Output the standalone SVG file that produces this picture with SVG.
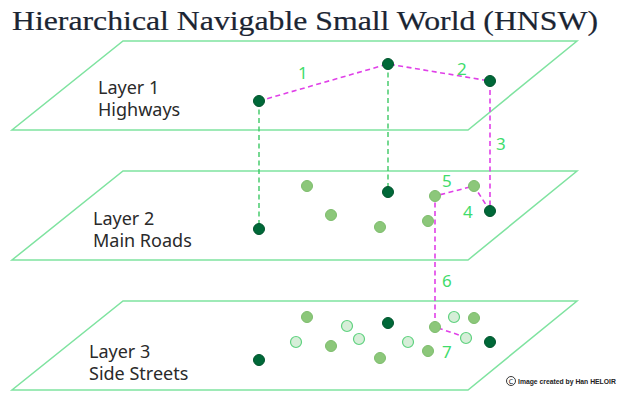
<svg xmlns="http://www.w3.org/2000/svg" width="632" height="397" viewBox="0 0 632 397">
<style>
.plane{fill:#ffffff;stroke:#7fe3a0;stroke-width:1.5}
.lbl{font-family:"Noto Sans",Lato,sans-serif;font-size:18px;fill:#2a2a2a}
.num{font-family:"Noto Sans",Lato,sans-serif;font-size:17px;fill:#3fdc6c}
.dark{fill:#006838;stroke:#00552d;stroke-width:1}
.mid{fill:#8cc77a;stroke:#7dbd6c;stroke-width:1}
.pale{fill:#d6eed8;stroke:#5fd27f;stroke-width:1.2}
.path{fill:none;stroke:#e040e8;stroke-width:1.6;stroke-dasharray:5,3.5}
.vert{fill:none;stroke:#3cc864;stroke-width:1.4;stroke-dasharray:5,3.5}
</style>
<rect width="632" height="397" fill="#ffffff"/>
<text x="12" y="30" font-family="'Liberation Serif','DejaVu Serif',serif" font-size="27" fill="#1b2533" stroke="#1b2533" stroke-width="0.2" textLength="586" lengthAdjust="spacingAndGlyphs">Hierarchical Navigable Small World (HNSW)</text>

<g id="layer1">
<polygon class="plane" points="123,41 577,41 468,130 12,130"/>
<text class="lbl" x="98" y="94">Layer 1<tspan x="98" dy="22">Highways</tspan></text>
</g>
<g id="layer2">
<polygon class="plane" points="123,171 577,171 468,260 12,260"/>
<text class="lbl" x="93" y="225">Layer 2<tspan x="93" dy="22">Main Roads</tspan></text>
</g>
<g id="layer3">
<polygon class="plane" points="123,301 577,301 468,390 12,390"/>
<text class="lbl" x="89" y="358">Layer 3<tspan x="89" dy="22">Side Streets</tspan></text>
</g>

<g id="connectors">
<line class="vert" x1="259" y1="101" x2="259" y2="229"/>
<line class="vert" x1="388" y1="64" x2="388" y2="192"/>
<polyline class="path" points="259,101 388,64 490,81 490,211"/>
<polyline class="path" points="490,211 474,186 435,196 435,327 465,337"/>
</g>

<g id="labels">
<text class="num" x="298" y="79">1</text>
<text class="num" x="457" y="75">2</text>
<text class="num" x="496" y="150">3</text>
<text class="num" x="463" y="218">4</text>
<text class="num" x="442" y="187">5</text>
<text class="num" x="442" y="287">6</text>
<text class="num" x="442" y="358">7</text>
</g>

<g id="nodes-layer1">
<circle class="dark" cx="259" cy="101" r="5.5"/>
<circle class="dark" cx="388" cy="64" r="5.5"/>
<circle class="dark" cx="490" cy="81" r="5.5"/>
</g>
<g id="nodes-layer2">
<circle class="dark" cx="259" cy="229" r="5.5"/>
<circle class="dark" cx="388" cy="192" r="5.5"/>
<circle class="dark" cx="490" cy="211" r="5.5"/>
<circle class="mid" cx="307" cy="186" r="5.5"/>
<circle class="mid" cx="331" cy="215" r="5.5"/>
<circle class="mid" cx="380" cy="227" r="5.5"/>
<circle class="mid" cx="428" cy="221" r="5.5"/>
<circle class="mid" cx="435" cy="196" r="5.5"/>
<circle class="mid" cx="474" cy="186" r="5.5"/>
</g>
<g id="nodes-layer3">
<circle class="dark" cx="259" cy="360" r="5.5"/>
<circle class="dark" cx="388" cy="323" r="5.5"/>
<circle class="dark" cx="490" cy="342" r="5.5"/>
<circle class="mid" cx="307" cy="317" r="5.5"/>
<circle class="mid" cx="331" cy="346" r="5.5"/>
<circle class="mid" cx="380" cy="358" r="5.5"/>
<circle class="mid" cx="428" cy="351" r="5.5"/>
<circle class="mid" cx="435" cy="327" r="5.5"/>
<circle class="mid" cx="474" cy="318" r="5.5"/>
<circle class="pale" cx="347" cy="326" r="5.5"/>
<circle class="pale" cx="359" cy="339" r="5.5"/>
<circle class="pale" cx="296" cy="342" r="5.5"/>
<circle class="pale" cx="408" cy="342" r="5.5"/>
<circle class="pale" cx="454" cy="317" r="5.5"/>
<circle class="pale" cx="466" cy="338" r="5.5"/>
</g>

<g id="credit">
<circle cx="511" cy="381" r="4.5" fill="none" stroke="#222" stroke-width="0.9"/>
<text x="511" y="383.5" text-anchor="middle" font-family="'DejaVu Sans',sans-serif" font-size="6.5" fill="#222">C</text>
<text x="518" y="383.5" font-family="'Liberation Sans',Arial,sans-serif" font-size="6.8" font-weight="bold" fill="#222">Image created by Han HELOIR</text>
</g>
</svg>
